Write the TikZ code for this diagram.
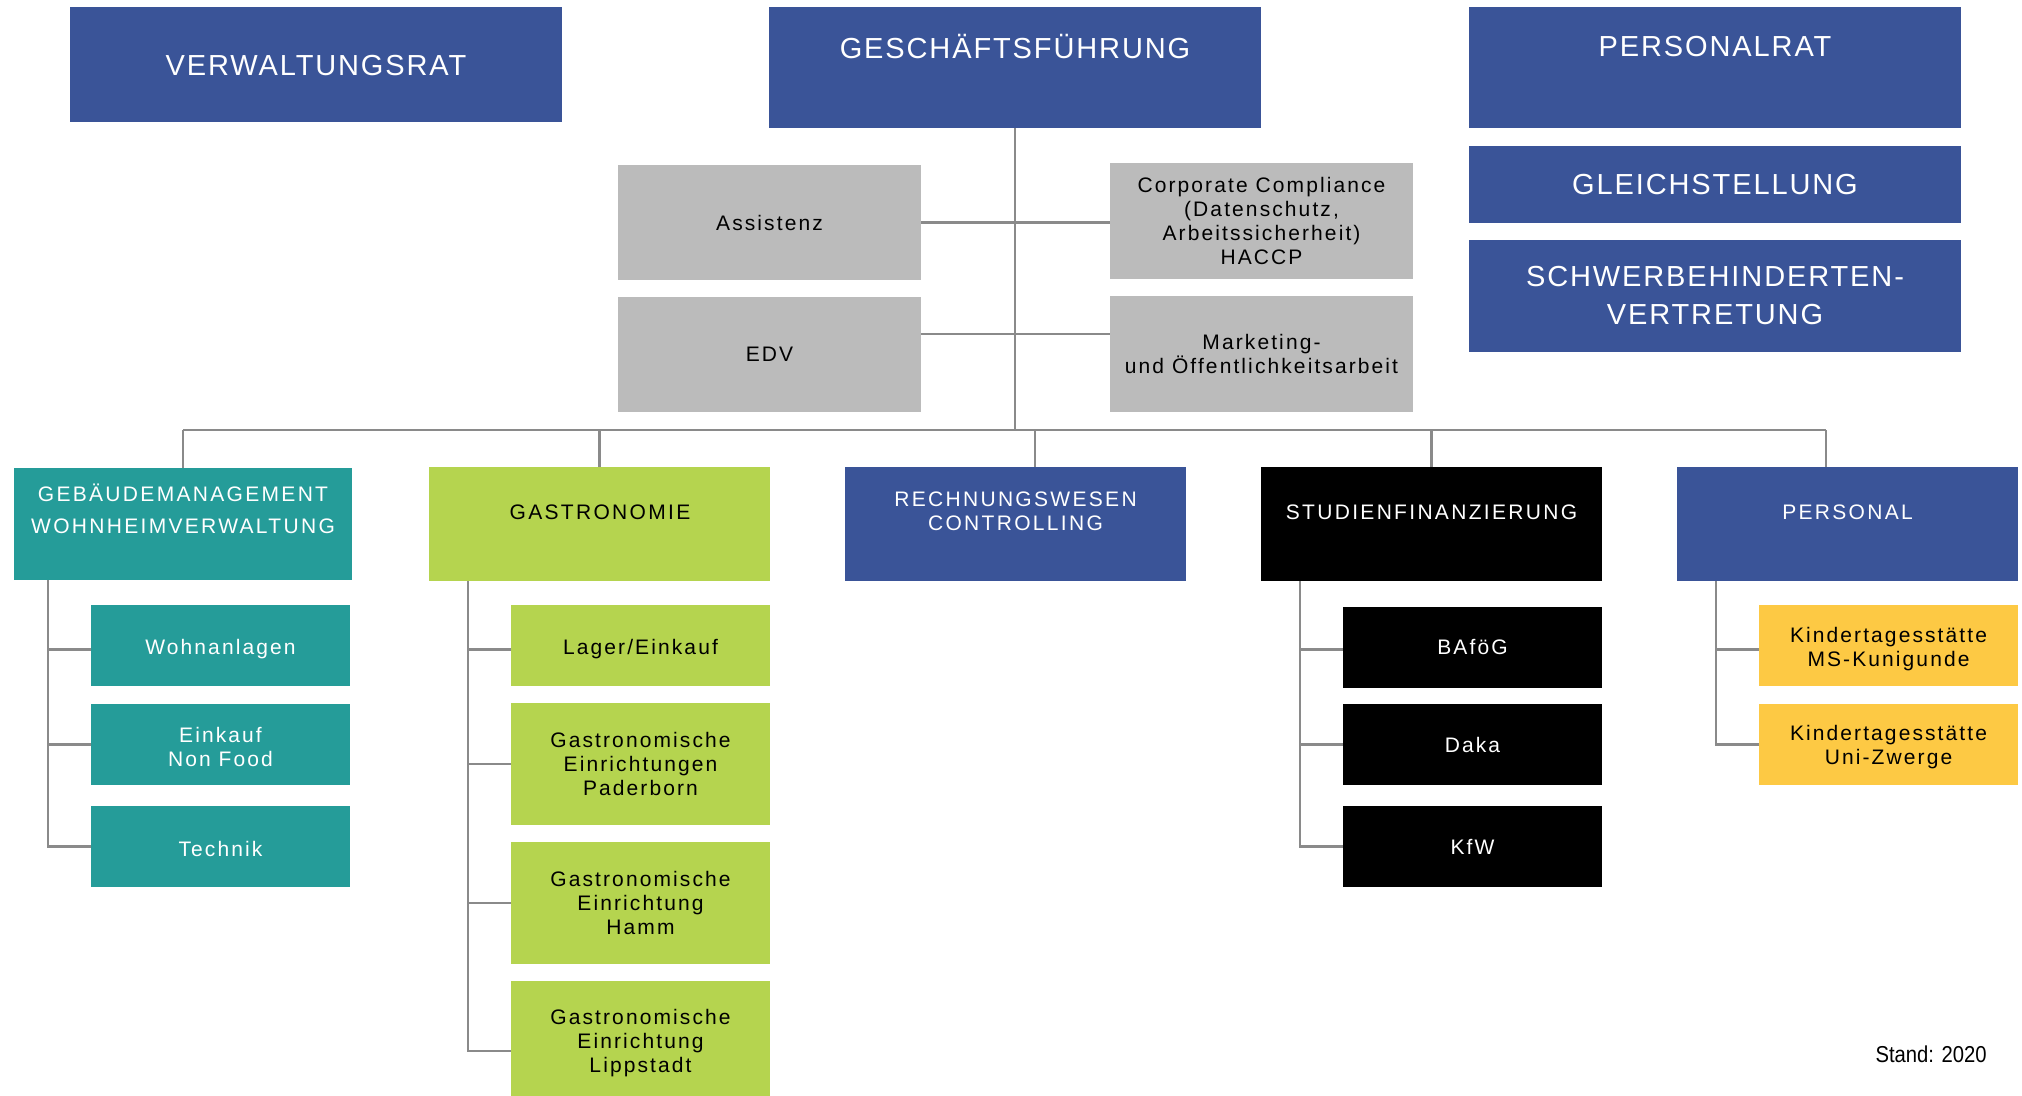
\documentclass[tikz,border=0pt]{standalone}
\usepackage{fontspec}
\setmainfont{Liberation Sans}[LetterSpace=10]
\newfontfamily\capfont{Liberation Sans}[LetterSpace=6.5]
\newfontfamily\subcapfont{Liberation Sans}[LetterSpace=11]
\newfontfamily\narrowfont{Liberation Sans}[FakeStretch=0.88]
\usetikzlibrary{fit}
\definecolor{cblue}{HTML}{3A5498}
\definecolor{cteal}{HTML}{259C99}
\definecolor{cgreen}{HTML}{B5D44F}
\definecolor{cyellow}{HTML}{FDC944}
\definecolor{cgray}{HTML}{BBBBBB}
\definecolor{cline}{HTML}{8A8A8A}
\tikzset{
  box/.style={inner sep=0pt, outer sep=0pt, draw=none, align=center,
    font=\fontsize{10.5}{12}\selectfont},
  bluebox/.style={box, fill=cblue, text=white},
  tealbox/.style={box, fill=cteal, text=white},
  greenbox/.style={box, fill=cgreen, text=black},
  blackbox/.style={box, fill=black, text=white},
  yellowbox/.style={box, fill=cyellow, text=black},
  graybox/.style={box, fill=cgray, text=black},
  toptitle/.style={inner sep=0pt, text=white, align=center,
    font=\capfont\fontsize{14.5}{19}\selectfont},
  subtitle/.style={inner sep=0pt, align=center,
    font=\subcapfont\fontsize{10.5}{16}\selectfont},
  ln/.style={draw=cline, line width=1.3pt}
}
\begin{document}
\begin{tikzpicture}[x=0.5pt, y=-0.5pt]
\clip (0,0) rectangle (2022,1096);
\fill[white] (0,0) rectangle (2022,1096);

% top row
\node[bluebox, fit={(70,7) (562,122)}] (vr) {};
\node[toptitle] (vrt) at (316,66) {VERWALTUNGSRAT};
\node[bluebox, fit={(769,7) (1261,128)}] (gf) {};
\node[toptitle] (gft) at (1015,47) {GESCHÄFTSFÜHRUNG};
\node[bluebox, fit={(1469,7) (1961,128)}] (pr) {};
\node[toptitle] (prt) at (1715,47) {PERSONALRAT};
\node[bluebox, fit={(1469,146) (1961,223)}] (gl) {};
\node[toptitle] (glt) at (1715,184.5) {GLEICHSTELLUNG};
\node[bluebox, fit={(1469,240) (1961,352)}] (sb) {};
\node[toptitle] (sbt) at (1715,296) {SCHWERBEHINDERTEN-\\VERTRETUNG};

% staff units
\node[graybox, fit={(618,165) (921,280)}] (as) {};
\node[box, text=black] (ast) at (as.center) {Assistenz};
\node[graybox, fit={(618,297) (921,412)}] (edv) {};
\node[box, text=black] (edvt) at (edv.center) {EDV};
\node[graybox, fit={(1110,163) (1413,279)}] (cc) {};
\node[box, text=black] (cct) at (cc.center) {Corporate Compliance\\(Datenschutz,\\Arbeitssicherheit)\\HACCP};
\node[graybox, fit={(1110,296) (1413,412)}] (mk) {};
\node[box, text=black] (mkt) at (mk.center) {Marketing-\\und Öffentlichkeitsarbeit};

% second level
\node[tealbox, fit={(14,468) (352,580)}] (geb) {};
\node[subtitle, text=white] (gebt) at (183,509) {GEBÄUDEMANAGEMENT\\WOHNHEIMVERWALTUNG};
\node[greenbox, fit={(429,467) (770,581)}] (ga) {};
\node[subtitle, text=black] (gat) at (600,512) {GASTRONOMIE};
\node[bluebox, fit={(845,467) (1186,581)}] (rw) {};
\node[subtitle, text=white, font=\subcapfont\fontsize{10.5}{12}\selectfont] (rwt) at (1015.5,511) {RECHNUNGSWESEN\\CONTROLLING};
\node[blackbox, fit={(1261,467) (1602,581)}] (sf) {};
\node[subtitle, text=white] (sft) at (1431.5,512) {STUDIENFINANZIERUNG};
\node[bluebox, fit={(1677,467) (2018,581)}] (pe) {};
\node[subtitle, text=white] (pet) at (1847.5,512) {PERSONAL};

% leaves
\node[tealbox, fit={(91,605) (350,686)}] (wo) {};
\node[box, text=white] (wot) at ([yshift=-2pt]wo.center) {Wohnanlagen};
\node[tealbox, fit={(91,704) (350,785)}] (ek) {};
\node[box, text=white] (ekt) at ([yshift=-1pt]ek.center) {Einkauf\\Non Food};
\node[tealbox, fit={(91,806) (350,887)}] (te) {};
\node[box, text=white] (tet) at ([yshift=-1pt]te.center) {Technik};

\node[greenbox, fit={(511,605) (770,686)}] (la) {};
\node[box] (lat) at ([yshift=-2pt]la.center) {Lager/Einkauf};
\node[greenbox, fit={(511,703) (770,825)}] (gp) {};
\node[box] (gpt) at (gp.center) {Gastronomische\\Einrichtungen\\Paderborn};
\node[greenbox, fit={(511,842) (770,964)}] (gh) {};
\node[box] (ght) at (gh.center) {Gastronomische\\Einrichtung\\Hamm};
\node[greenbox, fit={(511,981) (770,1105)}] (gs) {};
\node[box] (gst) at (gs.center) {Gastronomische\\Einrichtung\\Lippstadt};

\node[blackbox, fit={(1343,607) (1602,688)}] (bf) {};
\node[box, text=white] (bft) at (bf.center) {BAföG};
\node[blackbox, fit={(1343,704) (1602,785)}] (dk) {};
\node[box, text=white] (dkt) at (dk.center) {Daka};
\node[blackbox, fit={(1343,806) (1602,887)}] (kf) {};
\node[box, text=white] (kft) at (kf.center) {KfW};

\node[yellowbox, fit={(1759,605) (2018,686)}] (k1) {};
\node[box] (k1t) at ([yshift=-2pt]k1.center) {Kindertagesstätte\\MS-Kunigunde};
\node[yellowbox, fit={(1759,704) (2018,785)}] (k2) {};
\node[box] (k2t) at ([yshift=-1.5pt]k2.center) {Kindertagesstätte\\Uni-Zwerge};

\node[inner sep=0pt, font=\narrowfont\fontsize{11.5}{13}\selectfont] (stand) at (1931,1054) {Stand: 2020};

% connectors
\coordinate (bus) at (gf.south |- 0,430);
\coordinate (busL) at (geb.north |- bus);
\coordinate (busR) at (1826,430);
\coordinate (d3) at (1035,430);
\draw[ln] (gf.south) -- (bus);
\draw[ln] (busL) -- (busR);
\draw[ln] (busL) -- (geb.north);
\draw[ln] (ga.north |- bus) -- (ga.north);
\draw[ln] (d3) -- (d3 |- rw.north);
\draw[ln] (sf.north |- bus) -- (sf.north);
\draw[ln] (busR) -- (busR |- pe.north);

\draw[ln] (as.east) -- (as.east -| cc.west);
\coordinate (edvc) at ([yshift=10.25pt]edv.east);
\draw[ln] (edvc) -- (edvc -| mk.west);

\coordinate (tg) at (48,580);
\draw[ln] (tg) |- ([yshift=-2pt]wo.west);
\draw[ln] (tg) |- (ek.west);
\draw[ln] (tg) |- (te.west);

\coordinate (ta) at (468,581);
\draw[ln] (ta) |- ([yshift=-2pt]la.west);
\draw[ln] (ta) |- (gp.west);
\draw[ln] (ta) |- (gh.west);
\draw[ln] (ta) |- ([yshift=-4pt]gs.west);

\coordinate (ts) at (1300,581);
\draw[ln] (ts) |- ([yshift=-1pt]bf.west);
\draw[ln] (ts) |- (dk.west);
\draw[ln] (ts) |- (kf.west);

\coordinate (tp) at (1716,581);
\draw[ln] (tp) |- ([yshift=-2pt]k1.west);
\draw[ln] (tp) |- (k2.west);
\end{tikzpicture}
\end{document}
